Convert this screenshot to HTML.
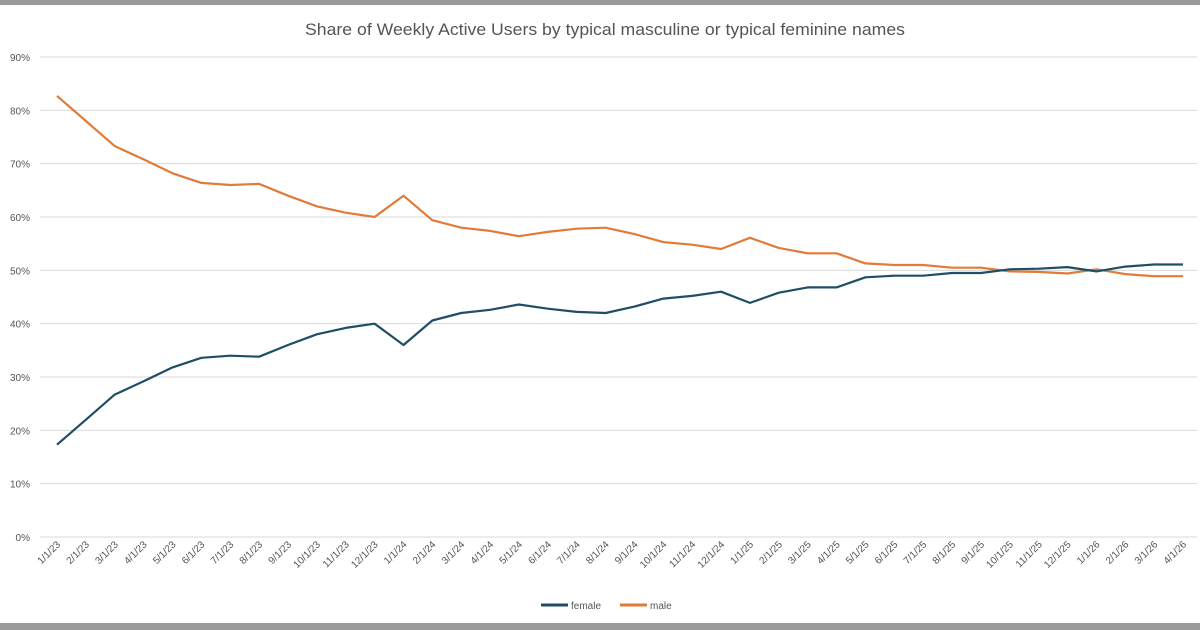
<!DOCTYPE html>
<html><head><meta charset="utf-8"><style>
html,body{margin:0;padding:0;background:#fff;}
svg{display:block;font-family:"Liberation Sans",sans-serif;}
</style></head><body>
<svg id="c" width="1200" height="630" xmlns="http://www.w3.org/2000/svg">
<rect x="0" y="0" width="1200" height="630" fill="#fff"/>
<rect x="0" y="0" width="1200" height="5" fill="#9a9a9a"/>
<rect x="0" y="623" width="1200" height="7" fill="#9a9a9a"/>
<text x="605" y="35" text-anchor="middle" font-size="17" fill="#555" textLength="600" lengthAdjust="spacingAndGlyphs">Share of Weekly Active Users by typical masculine or typical feminine names</text>
<g id="g"></g>
<line x1="541" y1="605" x2="568" y2="605" stroke="#1f4e65" stroke-width="3"/>
<text x="571" y="609" font-size="10" fill="#555">female</text>
<line x1="620" y1="605" x2="647" y2="605" stroke="#e07b39" stroke-width="3"/>
<text x="650" y="609" font-size="10" fill="#555">male</text>
</svg>
<script>
var g=document.getElementById('g'),s='';
function Y(p){return 537-p*480/90;}
for(var i=0;i<=9;i++){var y=Y(i*10);s+='<line x1="40" x2="1197" y1="'+y+'" y2="'+y+'" stroke="#d9d9d9" stroke-width="1"/>';
s+='<text x="30" y="'+(y+4)+'" text-anchor="end" font-size="10" fill="#555">'+(i*10)+'%</text>';}
var male=[82.7,78,73.3,70.8,68.2,66.4,66,66.2,64,62,60.8,60,64,59.4,58,57.4,56.4,57.2,57.8,58,56.8,55.3,54.8,54,56.1,54.2,53.2,53.2,51.3,51,51,50.5,50.5,49.8,49.7,49.4,50.2,49.3,48.9,48.9];
var n=male.length,dx=(1183-57)/(n-1);
var m=[],f=[],labels=[];
var mo=1,yr=23;
for(var i=0;i<n;i++){var x=57+i*dx;m.push(x.toFixed(1)+','+Y(male[i]).toFixed(1));f.push(x.toFixed(1)+','+Y(100-male[i]).toFixed(1));
var lab=mo+'/1/'+yr;s+='<text transform="translate('+(x+4)+',545) rotate(-45)" text-anchor="end" font-size="10" fill="#555">'+lab+'</text>';
mo++;if(mo>12){mo=1;yr++;}}
s+='<polyline points="'+m.join(' ')+'" fill="none" stroke="#e07b39" stroke-width="2.2" stroke-linejoin="round"/>';
s+='<polyline points="'+f.join(' ')+'" fill="none" stroke="#1f4e65" stroke-width="2.2" stroke-linejoin="round"/>';
g.innerHTML=s;
</script>
</body></html>
